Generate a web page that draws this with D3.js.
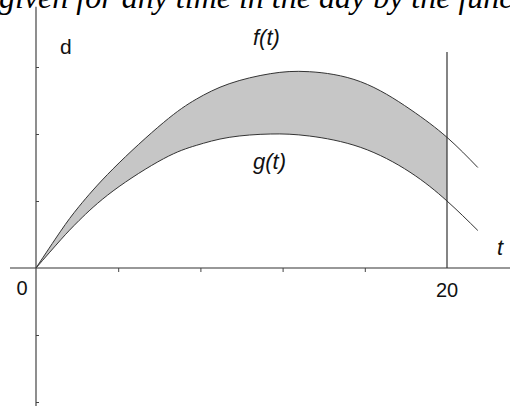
<!DOCTYPE html>
<html>
<head>
<meta charset="utf-8">
<script src="https://cdn.jsdelivr.net/npm/d3@7"></script>
<style>
  body { margin: 0; background: #fff; }
  svg { display: block; }
  .caption { font-family: "Liberation Serif", "Times New Roman", Times, serif; }
  .lbl { font-family: "Liberation Sans", Arial, Helvetica, sans-serif; fill: #111; }
</style>
</head>
<body>
<div class="canvas"></div>
<script>
const dims = { width: 510, height: 406 };

// values (t in hours, d in tick units)
const tValues = [0, 1.2, 2.1, 3.75, 6.2, 7.8, 9.4, 11.4, 13.3, 15.8, 18.2, 20, 21.5];
const fValues = [0, 0.55, 0.92, 1.48, 2.17, 2.52, 2.75, 2.9, 2.93, 2.78, 2.37, 1.95, 1.5];
const gValues = [0, 0.42, 0.71, 1.15, 1.63, 1.83, 1.95, 2.0, 1.97, 1.8, 1.43, 1.0, 0.56];
const xTicks = [4, 8, 12, 16];
const yTicks = [-2, -1, 1, 2, 3];
const tEnd = 20;

const svg = d3
  .select(".canvas")
  .append("svg")
  .attr("width", dims.width)
  .attr("height", dims.height);

const x = d3.scaleLinear().domain([0, 20]).range([36, 447]);
const y = d3.scaleLinear().domain([0, 1]).range([268, 201]);

const data = tValues.map((t, i) => ({ t, f: fValues[i], g: gValues[i] }));

// caption text cut off at the top
svg
  .append("text")
  .attr("class", "caption")
  .attr("x", -1)
  .attr("y", 8)
  .style("font-style", "italic")
  .style("font-size", "32px")
  .text("given for any time in the day by the func");

// shaded region between the curves, only up to t = 20
svg
  .append("clipPath")
  .attr("id", "upto20")
  .append("rect")
  .attr("x", x(0))
  .attr("y", 0)
  .attr("width", x(tEnd) - x(0))
  .attr("height", dims.height);

const area = d3
  .area()
  .x((d) => x(d.t))
  .y0((d) => y(d.g))
  .y1((d) => y(d.f))
  .curve(d3.curveNatural);

svg
  .append("path")
  .datum(data)
  .attr("d", area)
  .attr("fill", "#c6c6c6")
  .attr("clip-path", "url(#upto20)");

// curves
const lineF = d3.line().x((d) => x(d.t)).y((d) => y(d.f)).curve(d3.curveNatural);
const lineG = d3.line().x((d) => x(d.t)).y((d) => y(d.g)).curve(d3.curveNatural);

svg.append("path").datum(data).attr("d", lineF)
  .attr("fill", "none").attr("stroke", "#333").attr("stroke-width", 1);
svg.append("path").datum(data).attr("d", lineG)
  .attr("fill", "none").attr("stroke", "#333").attr("stroke-width", 1);

// axes
svg.append("line")
  .attr("x1", 10).attr("x2", 510)
  .attr("y1", y(0)).attr("y2", y(0))
  .attr("stroke", "#333").attr("stroke-width", 1.2);

svg.append("line")
  .attr("x1", x(0)).attr("x2", x(0))
  .attr("y1", y(3.9)).attr("y2", y(-2.07))
  .attr("stroke", "#444").attr("stroke-width", 1.2);

svg.append("g")
  .attr("transform", `translate(0, ${y(0)})`)
  .call(d3.axisBottom(x).tickValues(xTicks).tickSize(4).tickFormat(""))
  .call((g) => g.select(".domain").remove())
  .selectAll("line").attr("stroke", "#444");

svg.append("g")
  .attr("transform", `translate(${x(0)}, 0)`)
  .call(d3.axisRight(y).tickValues(yTicks).tickSize(3).tickFormat(""))
  .call((g) => g.select(".domain").remove())
  .selectAll("line").attr("stroke", "#444");

// vertical line at t = 20
svg.append("line")
  .attr("x1", x(tEnd)).attr("x2", x(tEnd))
  .attr("y1", 52).attr("y2", y(0))
  .attr("stroke", "#333").attr("stroke-width", 1.2);

// labels
svg.append("text").attr("class", "lbl").attr("x", x(0) - 14).attr("y", 295)
  .attr("text-anchor", "middle")
  .style("font-size", "20px").text("0");

svg.append("text").attr("class", "lbl").attr("x", x(tEnd)).attr("y", 297)
  .attr("text-anchor", "middle")
  .style("font-size", "20px").text("20");

svg.append("text").attr("class", "lbl").attr("x", 60).attr("y", 54)
  .style("font-size", "21px").text("d");

svg.append("text").attr("class", "lbl").attr("x", 253).attr("y", 45)
  .style("font-style", "italic")
  .style("font-size", "22px").text("f(t)");

svg.append("text").attr("class", "lbl").attr("x", 253).attr("y", 169)
  .style("font-style", "italic")
  .style("font-size", "22px").text("g(t)");

svg.append("text").attr("class", "lbl").attr("x", 497).attr("y", 255)
  .style("font-style", "italic")
  .style("font-size", "22px").text("t");
</script>
</body>
</html>
